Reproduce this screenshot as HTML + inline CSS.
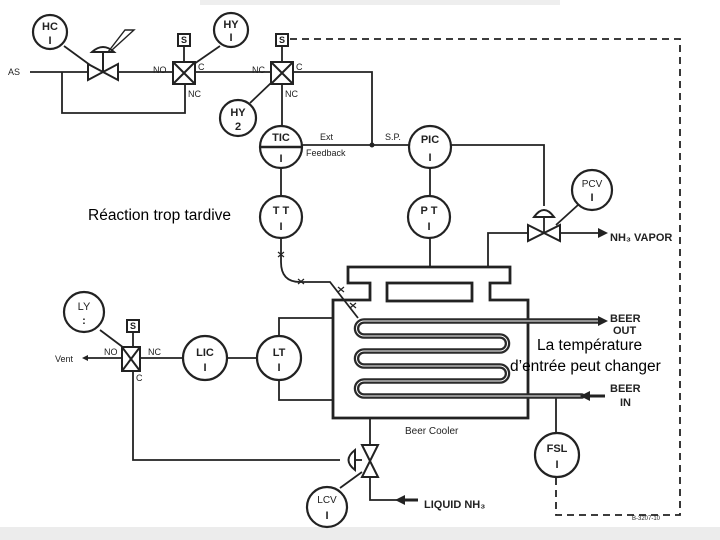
<!DOCTYPE html>
<html><head><meta charset="utf-8"><style>
html,body{margin:0;padding:0;background:#fff;}
svg{display:block;}
text{font-family:"Liberation Sans",sans-serif;fill:#222;}
.l{font-size:9px;}
.o{font-family:"Liberation Sans","DejaVu Sans",sans-serif;font-size:15.5px;fill:#000;}
</style></head><body>
<svg width="720" height="540" viewBox="0 0 720 540" xmlns="http://www.w3.org/2000/svg">
<rect x="0" y="0" width="720" height="540" fill="#fff"/>
<rect x="200" y="0" width="360" height="5" fill="#eeeeee"/>
<rect x="0" y="527" width="720" height="13" fill="#ececec"/>
<g stroke="#222" stroke-width="1.8" fill="none">
<path d="M30,72 H88 M118,72 H173 M195,72 H270 M294,72 H372 V145"/>
<path d="M62,72 V113 H185 V85"/>
<path d="M282,84 V126"/>
<path d="M302,145 H409"/>
<path d="M281,168 V196 M281,238 V262 Q281,282 300,282 H330 L358,318"/>
<path d="M430,168 V196 M430,238 V267"/>
<path d="M451,145 H544 V206 M544,217 V233"/>
<path d="M488,267 V233 H528 M560,233 H598"/>
<path d="M290,39 H680 V515 H556 V476" stroke-dasharray="7,5"/>
<path d="M88,358 H122 M140,358 H183 M227,358 H257"/>
<path d="M279,337 V318 H333 M279,380 V400 H333"/>
<path d="M133,370 V460 H340"/>
<path d="M133,347 V332"/>
<path d="M370,418 V445 M370,477 V500 H418"/>
<path d="M356,460 H362"/>
<path d="M556,396 V433"/>
<path d="M184,46 V62 M282,46 V62"/>
<path d="M64,46 L90,65 M220,46 L194,64 M250,103 L272,82 M100,330 L124,348 M578,205 L556,225 M340,488 L362,472"/>
</g>
<g stroke="#222" stroke-width="1.2">
<path d="M278,252 l6,5 M284,252 l-6,5 M298,279 l6,5 M304,279 l-6,5 M338,287 l6,5 M344,287 l-6,5 M350,303 l6,5 M356,303 l-6,5"/>
</g>
<g stroke="#222" stroke-width="2.2" fill="#fff">
<circle cx="50" cy="32" r="17"/>
<circle cx="231" cy="30" r="17"/>
<circle cx="238" cy="118" r="18"/>
<circle cx="281" cy="147" r="21"/>
<circle cx="281" cy="217" r="21"/>
<circle cx="430" cy="147" r="21"/>
<circle cx="429" cy="217" r="21"/>
<circle cx="592" cy="190" r="20"/>
<circle cx="84" cy="312" r="20"/>
<circle cx="205" cy="358" r="22"/>
<circle cx="279" cy="358" r="22"/>
<circle cx="557" cy="455" r="22"/>
<circle cx="327" cy="507" r="20"/>
</g>
<path d="M260,147 H302" stroke="#222" stroke-width="2.5"/>
<g font-size="11" text-anchor="middle" font-weight="bold">
<text x="50" y="30">HC</text><text x="50" y="44">I</text>
<text x="231" y="28">HY</text><text x="231" y="41">I</text>
<text x="238" y="116">HY</text><text x="238" y="130">2</text>
<text x="281" y="141">TIC</text><text x="281" y="162">I</text>
<text x="281" y="214">T T</text><text x="281" y="230">I</text>
<text x="430" y="143">PIC</text><text x="430" y="161">I</text>
<text x="429" y="214">P T</text><text x="429" y="230">I</text>
<text x="592" y="187" font-size="10" font-weight="normal">PCV</text><text x="592" y="201">I</text>
<text x="84" y="310" font-weight="normal">LY</text><text x="84" y="324">:</text>
<text x="205" y="356">LIC</text><text x="205" y="371">I</text>
<text x="279" y="356">LT</text><text x="279" y="371">I</text>
<text x="557" y="452">FSL</text><text x="557" y="468">I</text>
<text x="327" y="503" font-size="10" font-weight="normal">LCV</text><text x="327" y="519">I</text>
</g>
<g stroke="#222" stroke-width="2" fill="#fff">
<path d="M88,64 L118,80 V64 L88,80 Z"/>
<path d="M103,72 V52"/>
<path d="M92,52 Q103,42 114,52 Z"/>
<path d="M108,52 L125,30 H134 L112,50" fill="none" stroke-width="1.4"/>
<rect x="173" y="62" width="22" height="22"/>
<path d="M173,62 L195,84 M195,62 L173,84"/>
<rect x="178" y="34" width="12" height="12"/>
<rect x="271" y="62" width="22" height="22"/>
<path d="M271,62 L293,84 M293,62 L271,84"/>
<rect x="276" y="34" width="12" height="12"/>
<rect x="122" y="347" width="18" height="24"/>
<path d="M122,347 L140,371 M140,347 L122,371"/>
<rect x="127" y="320" width="12" height="12"/>
<path d="M528,225 L560,241 V225 L528,241 Z"/>
<path d="M534,217 Q544,203 554,217 Z"/>
<path d="M362,445 L378,477 H362 L378,445 Z"/>
<path d="M355,450 Q342,460 355,470 Z"/>
</g>
<g class="l" font-size="8" text-anchor="middle" font-weight="bold">
<text x="184" y="43">S</text><text x="282" y="43">S</text><text x="133" y="329">S</text>
</g>
<g stroke="#222" stroke-width="2.8" fill="none">
<path d="M333,300 H370 V283 H348 V267 H510 V283 H490 V300 H528 V418 H333 Z"/>
<rect x="387" y="283" width="85" height="18"/>
</g>
<g stroke="#2a2a2a" stroke-width="5.5" fill="none" stroke-linecap="round">
<path d="M598,321 H364 A7.5,7.5 0 0 0 364,336 H500 A7.5,7.5 0 0 1 500,351 H364 A7.5,7.5 0 0 0 364,366 H500 A7.5,7.5 0 0 1 500,381 H364 A7.5,7.5 0 0 0 364,396 H582"/>
</g>
<g stroke="#fff" stroke-width="1" fill="none">
<path d="M598,321 H364 A7.5,7.5 0 0 0 364,336 H500 A7.5,7.5 0 0 1 500,351 H364 A7.5,7.5 0 0 0 364,366 H500 A7.5,7.5 0 0 1 500,381 H364 A7.5,7.5 0 0 0 364,396 H582"/>
</g>
<path d="M582,396 H605" stroke="#222" stroke-width="3"/>
<g fill="#222">
<path d="M598,316 L608,321 L598,326 Z"/>
<path d="M590,391 L580,396 L590,401 Z"/>
<path d="M598,228 L608,233 L598,238 Z"/>
<path d="M405,495 L395,500 L405,505 Z"/>
<path d="M88,355 L82,358 L88,361 Z"/>
<circle cx="372" cy="145" r="2.5"/>
</g>
<path d="M405,500 H418" stroke="#222" stroke-width="3"/>
<g font-size="9">
<text x="8" y="75">AS</text>
<text x="153" y="73">NO</text><text x="198" y="70">C</text><text x="188" y="97">NC</text>
<text x="252" y="73">NC</text><text x="296" y="70">C</text><text x="285" y="97">NC</text>
<text x="320" y="140">Ext</text><text x="306" y="156">Feedback</text>
<text x="385" y="140">S.P.</text>
<text x="610" y="241" font-size="11" font-weight="bold">NH₃ VAPOR</text>
<text x="610" y="322" font-size="11" font-weight="bold">BEER</text>
<text x="613" y="334" font-size="11" font-weight="bold">OUT</text>
<text x="610" y="392" font-size="11" font-weight="bold">BEER</text>
<text x="620" y="406" font-size="11" font-weight="bold">IN</text>
<text x="405" y="434" font-size="10">Beer Cooler</text>
<text x="424" y="508" font-size="11" font-weight="bold">LIQUID NH₃</text>
<text x="55" y="362">Vent</text>
<text x="104" y="355">NO</text><text x="148" y="355">NC</text><text x="136" y="381">C</text>
<text x="632" y="520" font-size="6">B-3207-10</text>
</g>
<text class="o" x="88" y="220">Réaction trop tardive</text>
<text class="o" x="537" y="350">La température</text>
<text class="o" x="510" y="371">d’entrée peut changer</text>
</svg>
</body></html>
